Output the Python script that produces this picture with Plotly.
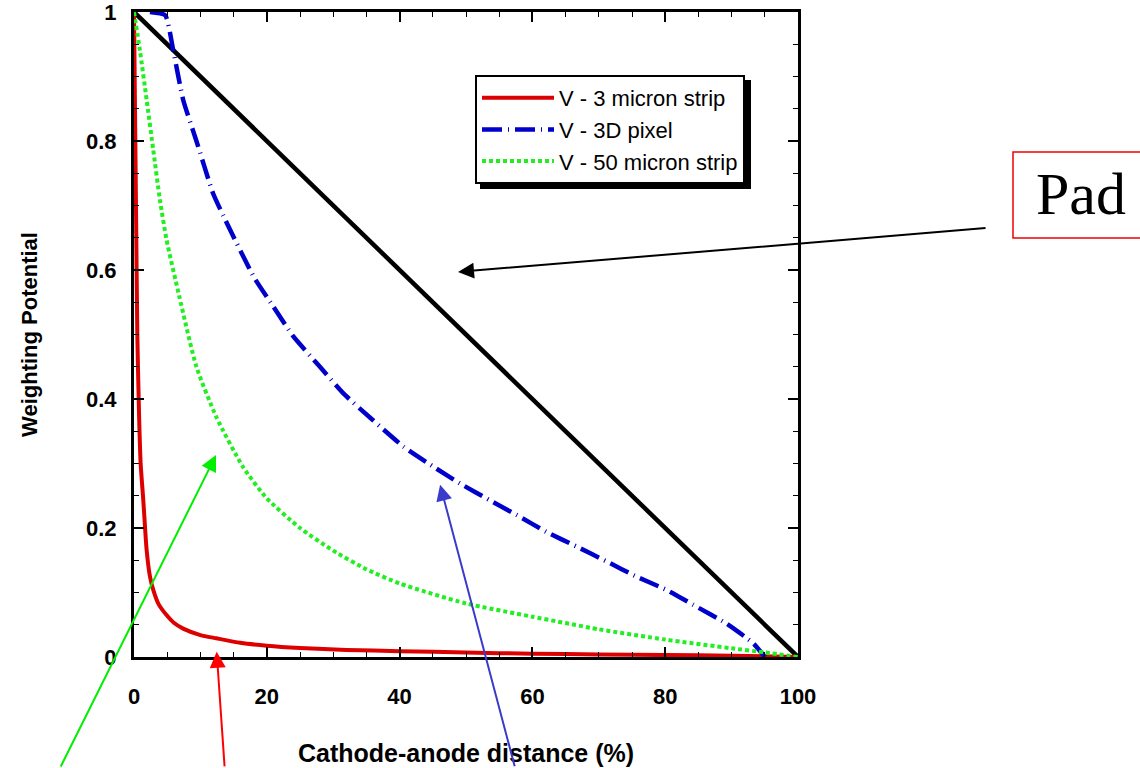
import plotly.graph_objects as go

# ---- data ----
red_x = [0, 0.15, 0.3, 0.5, 0.75, 1.0, 1.4, 1.9, 2.4, 2.9, 3.7, 4.9, 6, 7.4, 10, 12.4, 16, 20, 25, 32, 40, 50, 60, 70, 80, 90, 100]
red_y = [1.0, 0.85, 0.7, 0.5, 0.38, 0.3, 0.243, 0.166, 0.125, 0.104, 0.082, 0.065, 0.053, 0.044, 0.034, 0.029, 0.022, 0.0175, 0.014, 0.011, 0.009, 0.007, 0.005, 0.004, 0.003, 0.002, 0.0]

blue_x = [2.4, 4.7, 5.9, 7.4, 9.4, 11.9, 13.5, 18, 21, 24, 28, 31.5, 36, 40.6, 45.1, 49.1, 53.6, 58.1, 62.1, 66.7, 71.2, 75.7, 80.2, 84.2, 89.2, 93.3, 95]
blue_y = [1.0, 0.995, 0.941, 0.864, 0.8, 0.719, 0.683, 0.59, 0.543, 0.497, 0.45, 0.409, 0.367, 0.326, 0.295, 0.269, 0.243, 0.2175, 0.194, 0.171, 0.148, 0.1245, 0.104, 0.081, 0.052, 0.021, 0.0]

green_x = [0, 0.9, 1.9, 2.9, 3.9, 4.9, 6.8, 9.4, 12.4, 16.4, 20, 25, 30, 35, 40, 50, 60, 70, 80, 90, 95, 100]
green_y = [1.0, 0.94, 0.864, 0.786, 0.709, 0.647, 0.56, 0.45, 0.372, 0.295, 0.246, 0.2, 0.165, 0.136, 0.114, 0.083, 0.0625, 0.043, 0.027, 0.0135, 0.007, 0.0]

pad_x = [0, 100]
pad_y = [1, 0]

series_names = ["V - 3 micron strip", "V - 3D pixel", "V - 50 micron strip"]
x_ticks = [0, 20, 40, 60, 80, 100]
y_ticks = [0, 0.2, 0.4, 0.6, 0.8, 1]
y_tick_text = ["0", "0.2", "0.4", "0.6", "0.8", "1"]

FONT = "Liberation Sans, Arial, sans-serif"

fig = go.Figure()
fig.add_trace(go.Scatter(x=pad_x, y=pad_y, mode="lines", showlegend=False,
                         line=dict(color="black", width=4.5)))
fig.add_trace(go.Scatter(x=red_x, y=red_y, mode="lines", name=series_names[0],
                         line=dict(color="#dd0000", width=4, shape="spline", smoothing=0.6)))
fig.add_trace(go.Scatter(x=blue_x, y=blue_y, mode="lines", name=series_names[1],
                         line=dict(color="#0000cc", width=4.5, dash="20px,6px,1px,6px",
                                   shape="spline", smoothing=0.5)))
fig.add_trace(go.Scatter(x=green_x, y=green_y, mode="lines", name=series_names[2],
                         line=dict(color="#22ee22", width=4, dash="4px,3px",
                                   shape="spline", smoothing=0.6)))

axis_common = dict(showline=True, linecolor="black", linewidth=3, mirror="ticks",
                   ticks="inside", ticklen=10, tickwidth=1.5, tickcolor="black",
                   showgrid=False, zeroline=False, automargin=False,
                   ticklabeloverflow="allow",
                   tickfont=dict(family=FONT, size=22, color="black", weight="bold"))

fig.update_xaxes(range=[0, 100], tickvals=x_ticks, ticklabelstandoff=18,
                 minor=dict(dtick=5, ticks="inside", ticklen=5, tickwidth=1.2, tickcolor="black"),
                 title=dict(text="Cathode-anode distance (%)", standoff=37,
                            font=dict(family=FONT, size=25, color="black", weight="bold")),
                 **axis_common)
fig.update_yaxes(range=[0, 1], tickvals=y_ticks, ticktext=y_tick_text, ticklabelstandoff=10,
                 minor=dict(dtick=0.05, ticks="inside", ticklen=5, tickwidth=1.2, tickcolor="black"),
                 title=dict(text="Weighting Potential", standoff=43,
                            font=dict(family=FONT, size=22, color="black", weight="bold")),
                 **axis_common)

# Pad label box (extends past the right edge)
fig.add_shape(type="rect", xref="paper", yref="paper",
              x0=(1013 - 134) / 664, x1=(1160 - 134) / 664,
              y0=(657 - 238) / 645, y1=(657 - 152) / 645,
              line=dict(color="#ee0000", width=1.5), fillcolor="white", layer="above")
fig.add_annotation(xref="paper", yref="paper", x=(1081 - 134) / 664, y=(657 - 194) / 645,
                   text="Pad", showarrow=False, xanchor="center", yanchor="middle",
                   font=dict(family="Liberation Serif, Times New Roman, serif", size=60, color="black"))

# legend shadow
fig.add_shape(type="rect", xref="paper", yref="paper",
              x0=(480 - 134) / 664, x1=(751 - 134) / 664,
              y0=(657 - 189) / 645, y1=(657 - 80) / 645,
              line=dict(width=0), fillcolor="black", layer="above")

# arrows
arrows = [
    dict(x=48.8, y=0.597, ax=529, ay=-44, color="black"),
    dict(x=12.35, y=0.313, ax=-156, ay=313, color="#00ee00"),
    dict(x=12.45, y=0.008, ax=8, ay=116, color="#ff0000"),
    dict(x=46.1, y=0.267, ax=75, ay=283, color="#3a3acc"),
]
for a in arrows:
    fig.add_annotation(x=a["x"], y=a["y"], xref="x", yref="y", ax=a["ax"], ay=a["ay"],
                       axref="pixel", ayref="pixel", text="", showarrow=True,
                       arrowhead=2, arrowsize=1.6, arrowwidth=2, arrowcolor=a["color"],
                       standoff=0, startstandoff=0)

fig.update_layout(
    width=1140, height=768,
    margin=dict(l=134, r=342, t=12, b=111, autoexpand=False),
    plot_bgcolor="white", paper_bgcolor="white",
    legend=dict(x=(475 - 134) / 664, y=(657 - 75) / 645, xanchor="left", yanchor="top",
                bgcolor="white", bordercolor="black", borderwidth=2,
                font=dict(family=FONT, size=22, color="black"),
                tracegroupgap=0, itemwidth=72),
)

fig.write_html("out.html")
